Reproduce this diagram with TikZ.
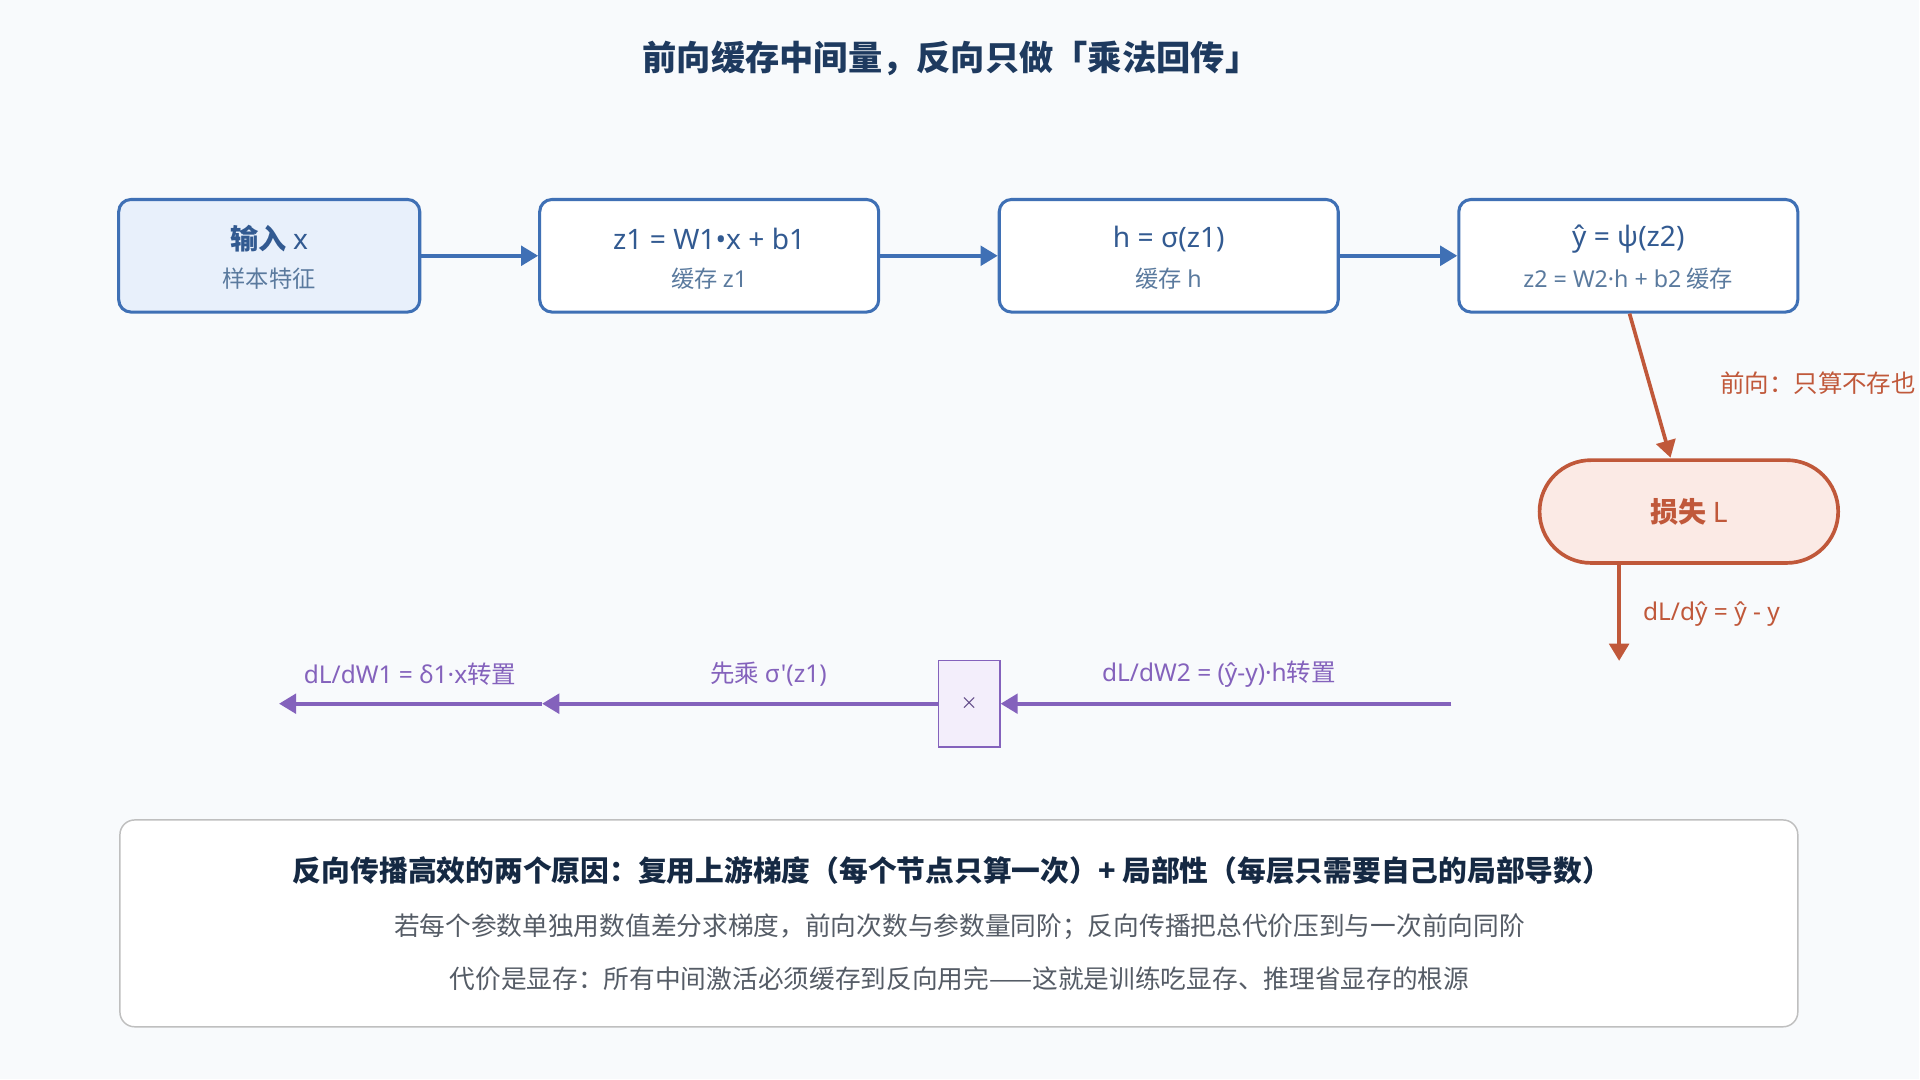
\documentclass[tikz,border=0pt]{standalone}
\usepackage{fontspec}
\setmainfont{Noto Sans CJK SC}
\newfontfamily\lat{Noto Sans}
\usepackage{xcolor}
\usetikzlibrary{arrows.meta,positioning,shapes}
\definecolor{bgc}{HTML}{F8FAFC}
\definecolor{navy}{HTML}{1E3A5F}
\definecolor{fwd}{HTML}{3F70B5}
\definecolor{fwdfill}{HTML}{E8F0FB}
\definecolor{subc}{HTML}{5A7A9E}
\definecolor{lossc}{HTML}{C0583A}
\definecolor{lossfill}{HTML}{FBEAE5}
\definecolor{bwd}{HTML}{8462BC}
\definecolor{bwdfill}{HTML}{F3EEFB}
\definecolor{grayc}{HTML}{555C66}
\newcommand{\yh}{{\lat ŷ}}

\begin{document}
\begin{tikzpicture}[x=1pt,y=-1pt,
  stage/.style={draw=fwd, line width=2.5pt, rounded corners=10pt, fill=white, minimum width=277pt, minimum height=92pt, align=center},
  fwdarrow/.style={draw=fwd, line width=3pt, -{Triangle[length=14pt,width=16pt]}},
  bwdarrow/.style={draw=bwd, line width=3pt, -{Triangle[length=14pt,width=16pt]}},
  bwdlabel/.style={text=bwd, font=\fontsize{20}{24}\selectfont\lat}]
\fill[bgc] (0,0) rectangle (1568,882);
\node[text=navy, font=\fontsize{28}{32}\selectfont\bfseries] (title) at (777,48) {前向缓存中间量，反向只做「乘法回传」};

% forward pass
\node[stage, fill=fwdfill, minimum width=246pt] (in) at (220,209) {};
\node[stage] (z1) at (579.5,209) {};
\node[stage] (h) at (955,209) {};
\node[stage] (yhat) at (1330.5,209) {};
\foreach \n/\top/\sub in {in/{输入 {\lat x}}/样本特征, z1/{\lat z1 = W1•x + b1}/缓存 {\lat z1}, h/{\lat h = σ(z1)}/缓存 {\lat h}, yhat/{\lat ŷ = ψ(z2)}/{{\lat z2 = W2·h + b2} 缓存}}{
  \node[text=fwd!80!black, font=\fontsize{23}{26}\selectfont\bfseries] at ([yshift=14pt]\n.center) {\top};
  \node[text=subc, font=\fontsize{19}{22}\selectfont] at ([yshift=-19pt]\n.center) {\sub};
}
\draw[fwdarrow] (in.east) -- (z1.west);
\draw[fwdarrow] (z1.east) -- (h.west);
\draw[fwdarrow] (h.east) -- (yhat.west);

% loss
\node[draw=lossc, line width=3pt, fill=lossfill, rounded corners=42pt, minimum width=244pt, minimum height=84pt, text=lossc, font=\fontsize{23}{26}\selectfont\bfseries] (loss) at (1380,418) {损失 {\lat L}};
\coordinate (lossin) at (1365,374);
\draw[draw=lossc, line width=3pt, -{Triangle[length=14pt,width=16pt]}] ([xshift=1pt]yhat.south) -- (lossin);
\node[anchor=west, text=lossc, font=\fontsize{20}{22}\selectfont] (fwdnote) at (1402,313) {前向：只算不存也};
\coordinate (grad) at (1323,540);
\draw[draw=lossc, line width=3pt, -{Triangle[length=14pt,width=16pt]}] (loss.south -| grad) -- (grad);
\node[anchor=west, text=lossc, font=\fontsize{20}{22}\selectfont\lat] (dy) at (1339,502) {dL/dŷ = ŷ - y};

% backward pass
\node[draw=bwd, line width=1.2pt, fill=bwdfill, minimum width=50pt, minimum height=71pt, font=\fontsize{14}{16}\selectfont, text=bwd!70!black] (mul) at (792,575) {×};
\coordinate (bstart) at (1186,575);
\coordinate (bmid) at (443,575);
\coordinate (bend) at (228,575);
\draw[bwdarrow] (bstart) -- (mul.east);
\draw[bwdarrow] (mul.west) -- (bmid);
\draw[bwdarrow] (bmid) -- (bend);
\node[bwdlabel] (dw2) at (996,551) {dL/dW2 = (ŷ-y)·h\rmfamily 转置};
\node[bwdlabel] (sig) at (628,551) {\rmfamily 先乘 \lat σ'(z1)};
\node[bwdlabel] (dw1) at (335,551) {dL/dW1 = δ1·x\rmfamily 转置};

% summary
\node[draw=gray!50, line width=1.2pt, fill=white, rounded corners=12pt, minimum width=1371pt, minimum height=169pt] (sum) at (783.5,754.5) {};
\node[text=navy!70!black, font=\fontsize{23.5}{26}\selectfont\bfseries] (s1) at (778,711) {反向传播高效的两个原因：复用上游梯度（每个节点只算一次）+ 局部性（每层只需要自己的局部导数）};
\node[text=grayc, font=\fontsize{21}{24}\selectfont] (s2) at (784,757) {若每个参数单独用数值差分求梯度，前向次数与参数量同阶；反向传播把总代价压到与一次前向同阶};
\node[text=grayc, font=\fontsize{21}{24}\selectfont] (s3) at (784,800) {代价是显存：所有中间激活必须缓存到反向用完——这就是训练吃显存、推理省显存的根源};
\useasboundingbox (0,0) rectangle (1568,882);
\end{tikzpicture}
\end{document}
